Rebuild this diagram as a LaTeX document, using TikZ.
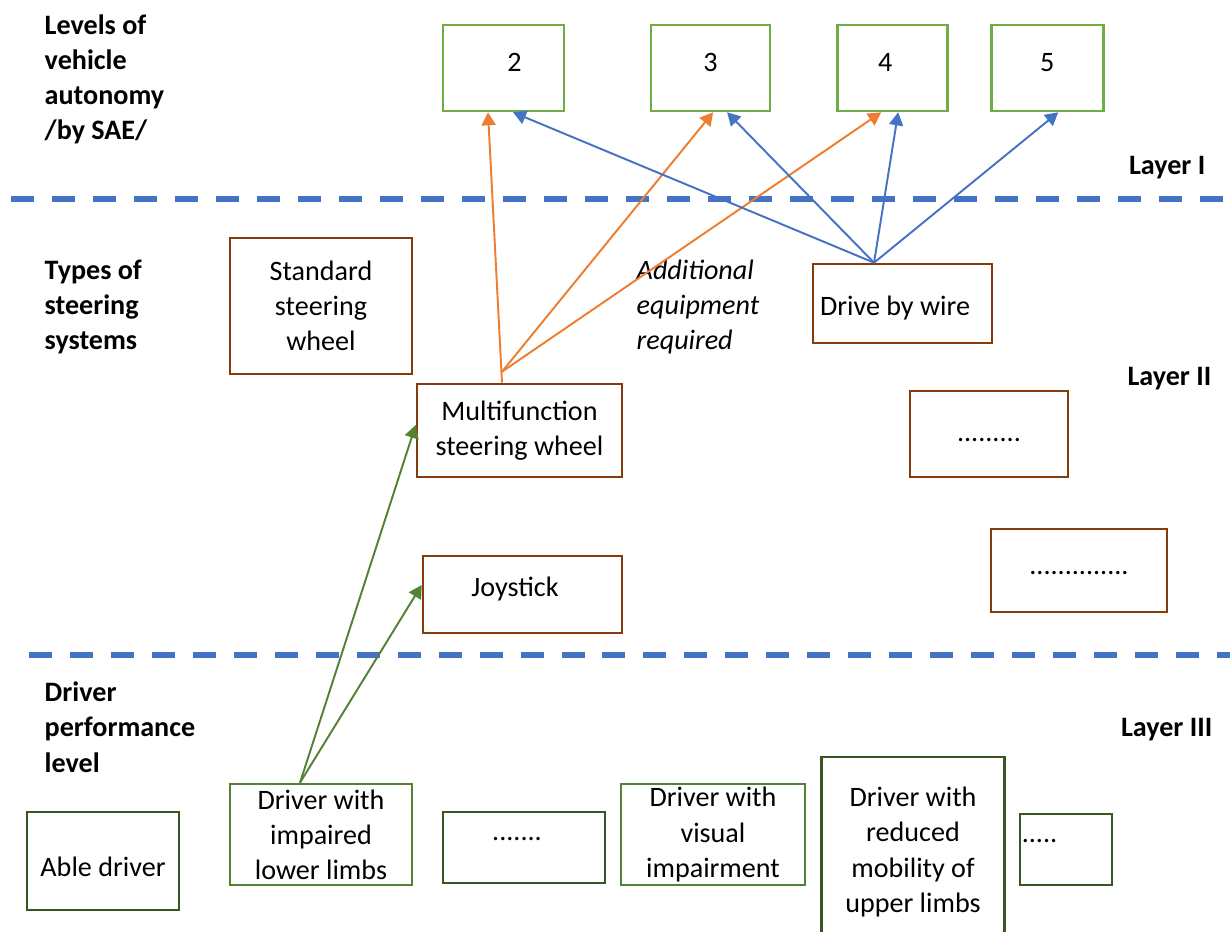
\documentclass[tikz,border=0pt]{standalone}
\usepackage{fontspec}
\setmainfont{Carlito}
\usepackage{tikz}
\usetikzlibrary{arrows.meta,positioning}
\definecolor{lvlgreen}{RGB}{112,173,71}
\definecolor{drvgreen}{RGB}{84,130,53}
\definecolor{darkgreen}{RGB}{56,87,35}
\definecolor{brownbox}{RGB}{132,60,12}
\definecolor{orangearr}{RGB}{237,125,49}
\definecolor{bluearr}{RGB}{68,114,196}

\begin{document}
\begin{tikzpicture}[->,>={Triangle[length=7.4pt,width=8pt]},
                    x=0.02cm,y=-0.02cm,line width=1.1pt]
\tikzstyle{every node}=[font=\fontsize{16pt}{20pt}\selectfont,align=center,inner sep=1pt]
\tikzstyle{lvl}=[draw=lvlgreen,line width=1.5pt,minimum height=1.72cm,text depth=6.6pt]
\tikzstyle{steer}=[draw=brownbox,line width=1.5pt]
\tikzstyle{drv}=[draw=darkgreen,line width=1.5pt]
\tikzstyle{drvlight}=[draw=drvgreen,line width=1.5pt,inner sep=0pt]
\tikzstyle{head}=[anchor=base west,align=left,font=\fontsize{16pt}{20pt}\selectfont\bfseries]
\tikzstyle{layer}=[anchor=base east,font=\fontsize{16pt}{20pt}\selectfont\bfseries]
\tikzstyle{divider}=[-,draw=bluearr,line width=3.4pt,dash pattern=on 0.46cm off 0.36cm]
\useasboundingbox (0,0) rectangle (1230,932);

% headings (base = last line)
\node[head] (LVL) at (42,140) {Levels of\\vehicle\\autonomy\\/by SAE/};
\node[head] (TYP) at (42,350) {Types of\\steering\\systems};
\node[head] (DRV) at (42,772) {Driver\\performance\\level};
\node[layer] (LY1) at (1208,175) {Layer I};
\node[layer] (LY2) at (1214,385) {Layer II};
\node[layer] (LY3) at (1215,736) {Layer III};

\draw[divider] (11,199) -- (1230,199);
\draw[divider] (28.6,655) -- (1230,655);

% layer I
\node[lvl,minimum width=2.42cm] (L2) at (503.5,68) {\hspace*{0.44cm}2};
\node[lvl,minimum width=2.38cm] (L3) [right=1.69cm of L2] {3};
\node[lvl,minimum width=2.2cm] (L4) [right=1.29cm of L3] {4\hspace*{0.28cm}};
\node[lvl,minimum width=2.24cm] (L5) [right=0.83cm of L4] {5};

% layer II
\node[steer,minimum width=3.64cm,minimum height=2.72cm] (SSW) at (321,306) {Standard\\steering\\wheel};
\node[steer,minimum width=4.1cm,minimum height=1.86cm] (MSW) at (519.5,430.5) {Multifunction\\steering wheel};
\node[steer,minimum width=3.58cm,minimum height=1.58cm,text height=16pt] (DBW) at (902.5,303.5) {Drive by wire\hspace*{0.3cm}};
\node[steer,minimum width=3.16cm,minimum height=1.72cm,text height=9pt,text depth=0pt] (DOT1) at (989,434) {.........};
\node[steer,minimum width=3.52cm,minimum height=1.66cm,text height=5pt,text depth=0pt] (DOT2) at (1079,570.5) {..............};
\node[steer,minimum width=3.98cm,minimum height=1.54cm,text depth=9pt] (JOY) at (522.5,594.5) {Joystick\hspace*{0.3cm}};
\node[anchor=base west,align=left,font=\fontsize{16pt}{20pt}\selectfont\itshape] (ADD) at (634,350) {Additional\\equipment\\required};

% layer III
\node[drv,minimum width=3.04cm,minimum height=1.96cm,text height=18pt,text depth=0pt] (ABLE) at (103,861) {Able driver};
\node[drvlight,minimum width=3.64cm,minimum height=2.02cm] (LOW) at (321,834.5) {Driver with\\impaired\\lower limbs};
\node[drv,minimum width=3.24cm,minimum height=1.42cm,text height=0pt,text depth=8.5pt] (DOT3) at (524,847.5) {.......\hspace*{0.28cm}};
\node[drvlight,minimum width=3.68cm,minimum height=2.02cm] (VIS) at (713,834.5) {Driver with\\visual\\impairment};
\node[drv,minimum width=3.66cm,minimum height=3.8cm] (UPP) at (913,852) {Driver with\\reduced\\mobility of\\upper limbs};
\node[drv,text width=1.77cm,align=left,minimum height=1.42cm,text height=0pt,text depth=8.5pt] (DOT4) at (1066,849.5) {.....};

\coordinate (mfTop) at ([xshift=-0.35cm]MSW.north);
\coordinate (mfFork) at ([yshift=0.22cm]mfTop);
\coordinate (dbwTop) at ([xshift=-0.57cm]DBW.north);
\coordinate (lowTop) at ([xshift=-0.42cm]LOW.north);

\path[color=orangearr] (mfTop) edge ([xshift=-0.31cm]L2.south)
      (mfFork) edge ([xshift=0.05cm]L3.south) edge ([xshift=-0.22cm]L4.south);
\path[color=bluearr] (dbwTop) edge ([xshift=0.19cm]L2.south) edge ([xshift=0.33cm]L3.south)
      edge ([xshift=0.12cm]L4.south) edge ([xshift=0.22cm]L5.south);
\path[color=drvgreen] (lowTop) edge ([yshift=0.11cm]MSW.west) edge ([yshift=0.19cm]JOY.west);
\end{tikzpicture}
\end{document}
